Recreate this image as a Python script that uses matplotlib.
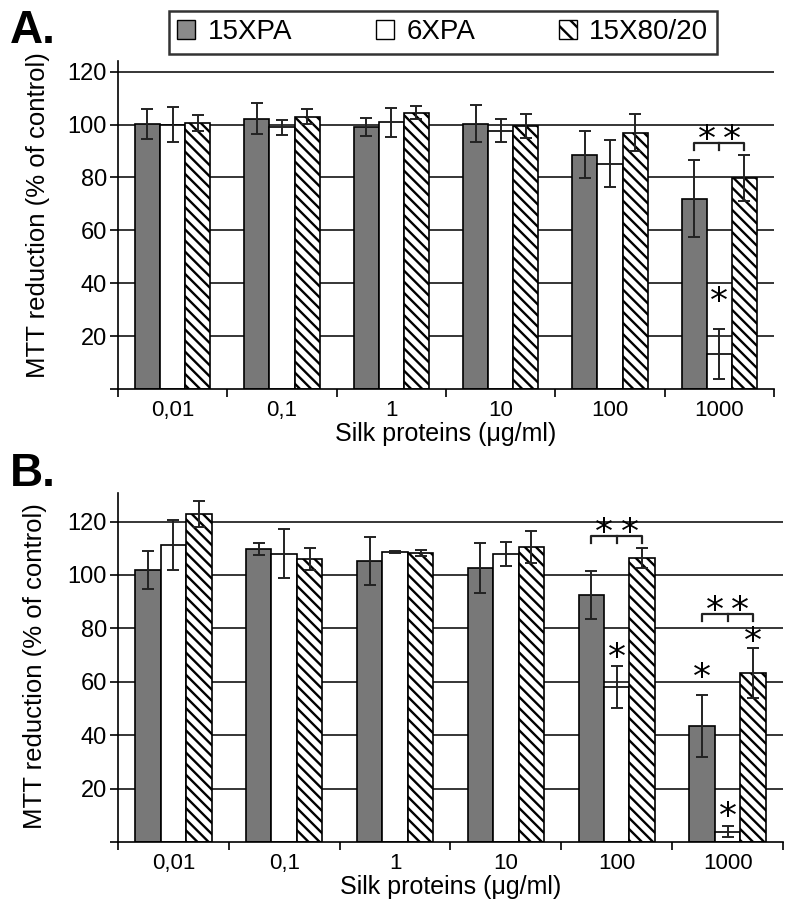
import numpy as np
import matplotlib
matplotlib.use('Agg')
import matplotlib.pyplot as plt
from matplotlib.patches import Patch

plt.rcParams['font.family'] = ['Liberation Sans', 'DejaVu Sans']
plt.rcParams['hatch.linewidth'] = 1.7

conc = ['0,01', '0,1', '1', '10', '100', '1000']
series = ['15XPA', '6XPA', '15X80/20']

# panel A
a_15xpa = [100.3, 102.2, 99.2, 100.3, 88.6, 71.9]
a_15xpa_err = [5.7, 5.9, 3.4, 7.0, 9.0, 14.5]
a_6xpa = [100.0, 99.0, 100.8, 97.7, 85.2, 13.2]
a_6xpa_err = [6.5, 2.8, 5.5, 4.5, 9.0, 9.6]
a_80 = [100.5, 103.0, 104.4, 99.5, 96.9, 79.9]
a_80_err = [3.0, 2.7, 2.5, 4.5, 7.0, 8.7]

# panel B
b_15xpa = [101.9, 109.7, 105.2, 102.6, 92.5, 43.4]
b_15xpa_err = [7.0, 2.4, 9.0, 9.5, 9.0, 11.6]
b_6xpa = [111.2, 107.9, 108.6, 107.9, 58.0, 3.9]
b_6xpa_err = [9.5, 9.2, 0.5, 4.5, 7.9, 1.9]
b_80 = [122.8, 106.0, 108.2, 110.5, 106.4, 63.3]
b_80_err = [5.0, 4.0, 1.0, 6.0, 3.7, 9.2]

# significance marks: (group, series index, y)
a_stars = [(5, 1, 33.0)]
a_brackets = [(5, 93.0)]
b_stars = [(4, 1, 69.0), (5, 0, 61.5), (5, 1, 9.5), (5, 2, 75.0)]
b_brackets = [(4, 114.6), (5, 85.4)]

fig = plt.figure(figsize=(7.95, 9.15), dpi=100)
W = 0.23
colors_ = ['#787878', 'white', 'white']
hatches = [None, None, '\\\\\\']


def draw(ax, vals, errs, ymax, stars, brackets, label_xy):
    x = np.arange(len(conc))
    for i in range(3):
        ax.bar(x + (i - 1) * W, vals[i], W, color=colors_[i], edgecolor='black',
               hatch=hatches[i], linewidth=1.2, zorder=2)
        ax.errorbar(x + (i - 1) * W, vals[i], yerr=errs[i], fmt='none',
                    ecolor='#222222', elinewidth=1.4, capsize=4, capthick=1.4, zorder=3)
    for g, s, y in stars:
        ax.text(g + (s - 1) * W, y, '*', ha='center', va='center', fontsize=26,
                family='DejaVu Sans', zorder=4)
    for g, y in brackets:
        d = 2.6
        ax.plot([g - W, g - W, g + W, g + W], [y - d, y, y, y - d], color='#222222', lw=1.6, zorder=4)
        ax.plot([g, g], [y, y - d], color='#222222', lw=1.6, zorder=4)
        ax.text(g - W / 2, y + 1.0, '*', ha='center', va='center', fontsize=26,
                family='DejaVu Sans', zorder=4)
        ax.text(g + W / 2, y + 1.0, '*', ha='center', va='center', fontsize=26,
                family='DejaVu Sans', zorder=4)
    ax.set_xlim(-0.5, len(conc) - 0.5)
    ax.set_ylim(0, ymax)
    ax.set_yticks(np.arange(0, 121, 20))
    ax.set_yticklabels([''] + [str(v) for v in range(20, 121, 20)])
    for v in range(20, 121, 20):
        ax.axhline(v, color='black', lw=1.1, zorder=1)
    ax.set_xticks(np.arange(len(conc) + 1) - 0.5)
    ax.set_xticklabels([])
    ax.set_xticks(np.arange(len(conc)), minor=True)
    ax.set_xticklabels(conc, minor=True)
    ax.tick_params(axis='x', which='minor', length=0, labelsize=16, pad=8)
    ax.tick_params(axis='x', which='major', length=6, width=1.2)
    ax.tick_params(axis='y', length=6, width=1.2, labelsize=17, pad=2)
    ax.spines['top'].set_visible(False)
    ax.spines['right'].set_visible(False)
    ax.spines['left'].set_linewidth(1.2)
    ax.spines['bottom'].set_linewidth(1.2)
    ax.set_ylabel('MTT reduction (% of control)', fontsize=18.5)
    ax.yaxis.set_label_coords(*label_xy)
    ax.set_xlabel('Silk proteins (μg/ml)', fontsize=18, labelpad=1)


axA = fig.add_axes([0.1484, 0.5749, 0.8252, 0.3584])
draw(axA, [a_15xpa, a_6xpa, a_80], [a_15xpa_err, a_6xpa_err, a_80_err], 124,
     a_stars, a_brackets, (-0.104, 0.53))
axB = fig.add_axes([0.1484, 0.0798, 0.8365, 0.3814])
draw(axB, [b_15xpa, b_6xpa, b_80], [b_15xpa_err, b_6xpa_err, b_80_err], 130.7,
     b_stars, b_brackets, (-0.107, 0.505))

fig.text(0.012, 0.953, 'A.', fontsize=33, fontweight='bold')
fig.text(0.012, 0.469, 'B.', fontsize=33, fontweight='bold')

handles = [Patch(facecolor='#8a8a8a', edgecolor='black', label=series[0]),
           Patch(facecolor='white', edgecolor='black', label=series[1]),
           Patch(facecolor='white', edgecolor='black', hatch='\\\\', label=series[2])]
leg = fig.legend(handles=handles, loc='center', bbox_to_anchor=(0.557, 0.9645), ncol=3,
                 fontsize=20, frameon=True, fancybox=False, edgecolor='black',
                 handlelength=0.65, handleheight=0.65, handletextpad=0.45, columnspacing=3.0,
                 borderpad=0.3)
leg.get_frame().set_linewidth(1.8)

fig.savefig('out.png', dpi=100)
